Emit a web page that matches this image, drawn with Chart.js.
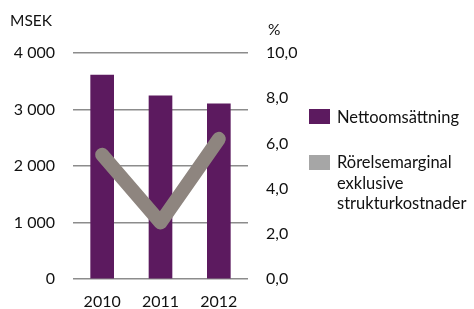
<!DOCTYPE html>
<html>
<head>
<meta charset="utf-8">
<script src="https://cdn.jsdelivr.net/npm/chart.js@4"></script>
<style>
  body { margin: 0; background: #fff; }
  #wrap { position: relative; width: 474px; height: 309px; }
  .leg { position: absolute; font-family: Lato, sans-serif; font-size: 16.5px; color: #111; line-height: 20.5px; }
  .box { position: absolute; width: 21px; height: 15px; }
</style>
</head>
<body>
<div id="wrap">
  <canvas id="canvas" width="474" height="309"></canvas>
  <div class="box" style="left:309px;top:109px;background:#5c1a5f"></div>
  <div class="leg" style="left:337px;top:107px">Nettoomsättning</div>
  <div class="box" style="left:309px;top:155px;background:#a6a6a6"></div>
  <div class="leg" style="left:337px;top:152px">Rörelsemarginal<br>exklusive<br>strukturkostnader</div>
</div>
<script>
const years = ['2010', '2011', '2012']
const nettoomsattning = [3610, 3240, 3100]
const rorelsemarginal = [5.5, 2.5, 6.2]
const leftTicks = [0, 1000, 2000, 3000, 4000]
const rightTicks = [0, 2, 4, 6, 8, 10]

const font = { family: 'Lato, sans-serif', size: 16 }

const titles = {
  id: 'titles',
  afterDraw(chart) {
    const ctx = chart.ctx
    ctx.save()
    ctx.font = '15.5px Lato, sans-serif'
    ctx.fillStyle = '#111'
    ctx.textBaseline = 'middle'
    ctx.fillText('MSEK', 10, 21)
    ctx.fillText('%', 268, 30)
    ctx.restore()
  }
}

const data = {
  labels: years,
  datasets: [
    {
      type: 'line',
      label: 'Rörelsemarginal exklusive strukturkostnader',
      data: rorelsemarginal,
      yAxisID: 'y1',
      borderColor: '#8e857f',
      borderWidth: 14,
      borderCapStyle: 'round',
      borderJoinStyle: 'round',
      pointRadius: 0,
      tension: 0,
      order: 0,
    },
    {
      type: 'bar',
      label: 'Nettoomsättning',
      data: nettoomsattning,
      yAxisID: 'y',
      backgroundColor: '#5c1a5f',
      barThickness: 23,
      order: 1,
    },
  ],
}

const config = {
  data: data,
  options: {
    responsive: false,
    animation: false,
    layout: { padding: { top: 53, left: 0, right: 0, bottom: 0 } },
    plugins: { legend: { display: false }, tooltip: { enabled: false } },
    scales: {
      x: {
        grid: { display: false, drawTicks: false },
        border: { display: false },
        ticks: { font: font, color: '#111', padding: 13 },
        afterFit(s) { s.height = 30 },
      },
      y: {
        position: 'left',
        min: 0,
        max: 4000,
        afterBuildTicks(s) { s.ticks = leftTicks.map(v => ({ value: v })) },
        ticks: {
          font: font,
          color: '#111',
          padding: 18,
          callback: v => v === 0 ? '0' : String(v).replace(/\B(?=(\d{3})+(?!\d))/g, ' '),
        },
        grid: { color: '#8c8c8c', lineWidth: 1.5, drawTicks: false },
        border: { display: false },
        afterFit(s) { s.width = 73 },
      },
      y1: {
        position: 'right',
        min: 0,
        max: 10,
        afterBuildTicks(s) { s.ticks = rightTicks.map(v => ({ value: v })) },
        ticks: {
          font: font,
          color: '#111',
          padding: 10,
          callback: v => v.toFixed(1).replace('.', ','),
        },
        grid: { display: false },
        border: { display: false },
        afterFit(s) { s.width = 226 },
      },
    },
  },
  plugins: [titles],
}

const canvas = document.getElementById('canvas')
const chart = new Chart(canvas, config)
</script>
</body>
</html>
